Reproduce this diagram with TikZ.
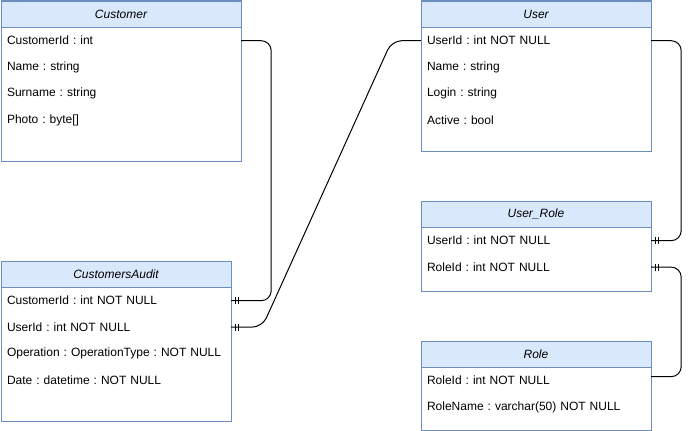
\documentclass[tikz,border=0pt]{standalone}
\usepackage{fontspec}
\setmainfont{Liberation Sans}
\usetikzlibrary{positioning}
\usetikzlibrary{decorations.markings}
\definecolor{tblhead}{HTML}{DAE8FC}
\definecolor{tblline}{HTML}{6C8EBF}
\frenchspacing

\begin{document}
\begin{tikzpicture}[x=1pt, y=-1pt, font=\fontsize{12}{14}\selectfont,
  tbl/.style={draw=tblline, line width=1pt, fill=white, anchor=north west, inner sep=0pt},
  head/.style={tbl, fill=tblhead, minimum height=26pt, font=\fontsize{12}{14}\selectfont\itshape},
  field/.style={minimum height=26pt, inner xsep=6pt, inner ysep=0pt, text width=#1, align=left},
  field/.default=218pt,
  rel/.style={draw=black, line width=1pt, rounded corners=10pt},
  one/.style={postaction={decorate, decoration={markings,
    mark=at position 4pt with {\draw[line width=1pt] (0,-3.5pt) -- (0,3.5pt);},
    mark=at position 7.5pt with {\draw[line width=1pt] (0,-3.5pt) -- (0,3.5pt);}}}}]
\useasboundingbox (0,0) rectangle (689,431);

% Customer
\node[tbl, minimum width=240pt, minimum height=160pt] (cust) at (0.5,0.5) {};
\node[head, minimum width=240pt] (cust-h) at (cust.north west) {Customer};
\node[field=228pt, below=0pt of cust-h] (cust-id) {CustomerId : int};
\node[field=228pt, below=0pt of cust-id] (cust-name) {Name : string};
\node[field=228pt, below=0pt of cust-name] (cust-sur) {Surname : string};
\node[field=228pt, below=0pt of cust-sur] (cust-photo) {Photo : byte[]};

% CustomersAudit
\node[tbl, minimum width=230pt, minimum height=160pt] (audit) at (0.5,260.5) {};
\node[head, minimum width=230pt] (audit-h) at (audit.north west) {CustomersAudit};
\node[field, below=0pt of audit-h] (audit-cid) {CustomerId : int NOT NULL};
\node[field, below=0pt of audit-cid] (audit-uid) {UserId : int NOT NULL};
\node[field, below=0pt of audit-uid] (audit-op) {Operation : OperationType : NOT NULL};
\node[field, below=0pt of audit-op] (audit-date) {Date : datetime : NOT NULL};

% User
\node[tbl, minimum width=230pt, minimum height=150pt] (user) at (420.5,0.5) {};
\node[head, minimum width=230pt] (user-h) at (user.north west) {User};
\node[field, below=0pt of user-h] (user-id) {UserId : int NOT NULL};
\node[field, below=0pt of user-id] (user-name) {Name : string};
\node[field, below=0pt of user-name] (user-login) {Login : string};
\node[field, below=0pt of user-login] (user-active) {Active : bool};

% User_Role
\node[tbl, minimum width=230pt, minimum height=90pt] (ur) at (420.5,200.5) {};
\node[head, minimum width=230pt] (ur-h) at (ur.north west) {User\_Role};
\node[field, below=0pt of ur-h] (ur-uid) {UserId : int NOT NULL};
\node[field, below=0pt of ur-uid] (ur-rid) {RoleId : int NOT NULL};

% Role
\node[tbl, minimum width=230pt, minimum height=89.5pt] (role) at (420.5,340.5) {};
\node[head, minimum width=230pt] (role-h) at (role.north west) {Role};
\node[field, below=0pt of role-h] (role-id) {RoleId : int NOT NULL};
\node[field, below=0pt of role-id] (role-name) {RoleName : varchar(50) NOT NULL};

% relations
\draw[rel, one] (audit-cid.east) -- ([xshift=40pt]audit-cid.east) |- (cust-id.east);
\draw[rel, one] (audit-uid.east) -- ++(31,0) -- ([xshift=-29pt]user-id.west) -- (user-id.west);
\draw[rel, one] (ur-uid.east) -- ++(30,0) |- (user-id.east);
\draw[rel, one] (ur-rid.east) -- ++(30,0) |- ([yshift=4pt]role-id.east);
\end{tikzpicture}
\end{document}
